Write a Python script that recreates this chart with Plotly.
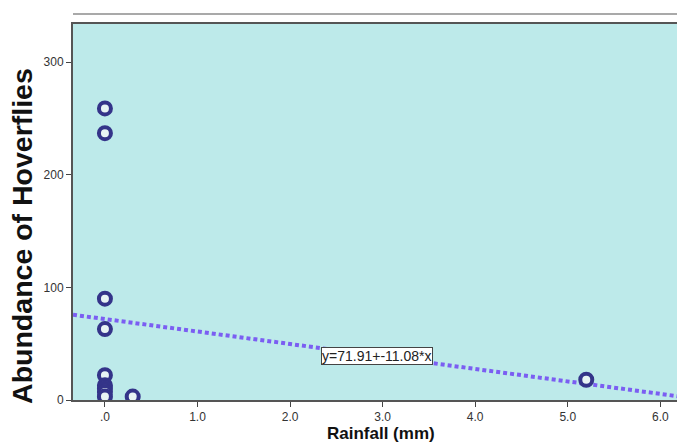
import plotly.graph_objects as go

rainfall = [0, 0, 0, 0, 0, 0, 0, 0, 0, 0.3, 5.2]
abundance = [259, 237, 90, 63, 22, 13, 10, 7, 3, 3, 18]
intercept = 71.91
slope = -11.08
x_range = [-0.345, 6.31]
y_range = [0, 334]
x_ticks = [0, 1, 2, 3, 4, 5, 6]
x_tick_labels = [".0", "1.0", "2.0", "3.0", "4.0", "5.0", "6.0"]
y_ticks = [0, 100, 200, 300]
label_x = 2.94

fig = go.Figure()
fit_x = [x_range[0], x_range[1]]
fit_y = [intercept + slope * v for v in fit_x]
fig.add_trace(go.Scatter(x=fit_x, y=fit_y, mode="lines",
                         line=dict(color="#7b5ef2", width=4, dash="4px,3px"),
                         hoverinfo="skip", showlegend=False))
fig.add_trace(go.Scatter(x=rainfall, y=abundance, mode="markers",
                         marker=dict(symbol="circle", size=12, color="#e8f4f4",
                                     line=dict(color="#343489", width=4)),
                         showlegend=False))

fig.add_annotation(x=label_x, y=intercept + slope * label_x,
                   text="y=71.91+-11.08*x", showarrow=False,
                   font=dict(family="Arial, Liberation Sans", size=14, color="#222"),
                   bgcolor="white", bordercolor="#444", borderwidth=1, borderpad=0)

fig.add_annotation(x=-0.083, xref="paper", y=0.436, yref="paper",
                   xanchor="center", yanchor="middle",
                   text="<b>Abundance of Hoverflies</b>", textangle=-90, showarrow=False,
                   font=dict(family="Arial, Liberation Sans", size=28.5, color="#111"))
fig.add_annotation(x=0.5, xref="paper", y=-0.089, yref="paper",
                   xanchor="center", yanchor="middle",
                   text="<b>Rainfall (mm)</b>", showarrow=False,
                   font=dict(family="Arial, Liberation Sans", size=17, color="#111"))

fig.add_shape(type="line", xref="paper", yref="paper", x0=0, x1=1.0, y0=1.0266, y1=1.0266,
              line=dict(color="#555", width=1.2))

fig.update_xaxes(range=x_range, tickvals=x_ticks, ticktext=x_tick_labels,
                 showgrid=False, zeroline=False, showline=True, linecolor="#555",
                 linewidth=1.5, mirror=True, ticks="outside", ticklen=5,
                 tickcolor="#444", tickfont=dict(family="Arial, Liberation Sans", size=12, color="#333"))
fig.update_yaxes(range=y_range, tickvals=y_ticks,
                 showgrid=False, zeroline=False, showline=True, linecolor="#555",
                 linewidth=2, mirror=True, ticks="outside", ticklen=5,
                 tickcolor="#444", tickfont=dict(family="Arial, Liberation Sans", size=12, color="#333"))

fig.update_layout(width=691, height=444, margin=dict(l=73, r=0, t=24, b=44),
                  plot_bgcolor="#bdeaea", paper_bgcolor="white")

fig.write_html("out.html", config={"displayModeBar": False},
               post_script="document.body.style.margin='0';document.body.style.overflow='hidden';")
